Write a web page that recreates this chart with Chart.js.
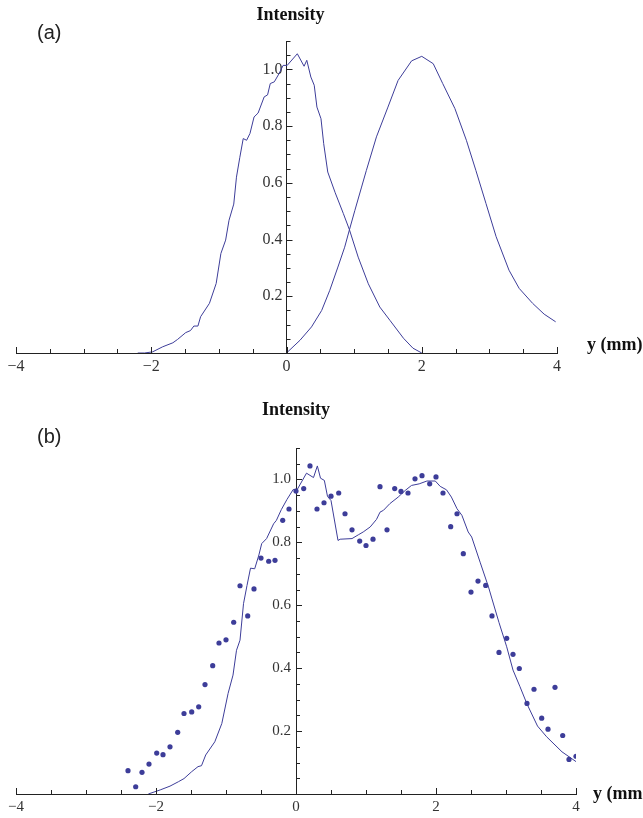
<!DOCTYPE html>
<html>
<head>
<meta charset="utf-8">
<script src="https://cdn.jsdelivr.net/npm/chart.js@4.4.1/dist/chart.umd.min.js"></script>
<style>
  html, body { margin: 0; padding: 0; background: #fff; }
  #wrap { position: relative; width: 643px; height: 818px; overflow: hidden; }
  canvas { position: absolute; left: 0; }
  #chartA { top: 0; }
  #chartB { top: 375px; }
</style>
</head>
<body>
<div id="wrap">
  <canvas id="chartA" width="643" height="375"></canvas>
  <canvas id="chartB" width="643" height="443"></canvas>
</div>
<script>
// panel (a) : left beam profile (measured) =====================================
var aLeftX = [-2.2, -2.1, -1.98, -1.83, -1.68, -1.61, -1.49, -1.42, -1.37, -1.31, -1.27, -1.14,
              -1.04, -0.97, -0.9, -0.85, -0.78, -0.74, -0.69, -0.64, -0.59, -0.54, -0.48, -0.42,
              -0.33, -0.28, -0.24, -0.18, -0.11, -0.05, 0.01, 0.16, 0.26, 0.30, 0.36, 0.41,
              0.45, 0.51, 0.55, 0.61, 0.72, 0.84, 0.93, 1.06, 1.21, 1.38, 1.53, 1.73, 1.87, 2.0];
var aLeftY = [0, 0, 0.004, 0.022, 0.036, 0.048, 0.072, 0.079, 0.095, 0.095, 0.128, 0.175,
              0.245, 0.351, 0.398, 0.468, 0.525, 0.62, 0.69, 0.756, 0.75, 0.774, 0.832, 0.846,
              0.903, 0.91, 0.95, 0.956, 0.985, 1.014, 1.014, 1.055, 1.011, 1.032, 0.973, 0.944,
              0.867, 0.826, 0.738, 0.638, 0.565, 0.492, 0.435, 0.338, 0.244, 0.162, 0.115, 0.052, 0.017, 0];

// panel (a) : right beam profile (shifted) =====================================
var aRightX = [0, 0.2, 0.37, 0.52, 0.64, 0.76, 0.86, 0.93, 1.01, 1.11, 1.18, 1.33, 1.5, 1.65,
               1.85, 2.0, 2.17, 2.31, 2.49, 2.66, 2.8, 2.95, 3.1, 3.29, 3.44, 3.64, 3.81, 3.98];
var aRightY = [0, 0.045, 0.092, 0.15, 0.221, 0.303, 0.373, 0.434, 0.502, 0.585, 0.643, 0.762, 0.867, 0.961,
               1.03, 1.046, 1.02, 0.95, 0.862, 0.75, 0.644, 0.527, 0.41, 0.292, 0.228, 0.175, 0.137, 0.11];

// panel (b) : measured points ===================================================
var bPointX = [-2.4, -2.29, -2.2, -2.1, -1.99, -1.9, -1.8, -1.69, -1.6, -1.49, -1.39, -1.3, -1.19,
               -1.1, -1.0, -0.89, -0.8, -0.69, -0.6, -0.5, -0.39, -0.3, -0.19, -0.1, 0.0, 0.11,
               0.2, 0.3, 0.4, 0.5, 0.61, 0.7, 0.8, 0.91, 1.0, 1.1, 1.2, 1.3, 1.41, 1.5, 1.6,
               1.7, 1.8, 1.91, 2.0, 2.1, 2.21, 2.3, 2.39, 2.5, 2.6, 2.71, 2.8, 2.9, 3.01, 3.1,
               3.19, 3.3, 3.4, 3.51, 3.6, 3.7, 3.81, 3.9, 4.0];
var bPointY = [0.074, 0.023, 0.069, 0.095, 0.13, 0.125, 0.15, 0.196, 0.256, 0.261, 0.277, 0.348, 0.408,
               0.48, 0.49, 0.546, 0.662, 0.566, 0.652, 0.75, 0.74, 0.743, 0.87, 0.906, 0.963, 0.971,
               1.043, 0.906, 0.926, 0.947, 0.957, 0.891, 0.84, 0.804, 0.79, 0.81, 0.977, 0.84, 0.971, 0.962, 0.957,
               1.002, 1.012, 0.986, 1.008, 0.957, 0.85, 0.891, 0.764, 0.642, 0.677, 0.663, 0.566, 0.45, 0.495, 0.444,
               0.399, 0.288, 0.333, 0.241, 0.206, 0.339, 0.186, 0.11, 0.12];

// panel (b) : computed curve ====================================================
var bLineX = [-2.11, -1.94, -1.8, -1.68, -1.6, -1.49, -1.4, -1.35, -1.29, -1.16, -1.06, -0.97, -0.9,
              -0.85, -0.8, -0.75, -0.7, -0.65, -0.59, -0.53, -0.49, -0.42, -0.32, -0.28, -0.21, -0.13,
              -0.04, 0.02, 0.15, 0.25, 0.305, 0.35, 0.405, 0.45, 0.5, 0.6, 0.63, 0.8, 0.89, 0.96, 1.06,
              1.15, 1.2, 1.25, 1.34, 1.46, 1.56, 1.65, 1.76, 1.87, 1.99, 2.06, 2.15, 2.22, 2.3, 2.37,
              2.46, 2.51, 2.63, 2.75, 2.8, 2.9, 3.01, 3.1, 3.2, 3.3, 3.45, 3.58, 3.8, 4.0];
var bLineY = [0, 0.013, 0.025, 0.039, 0.049, 0.071, 0.087, 0.09, 0.124, 0.166, 0.224, 0.32, 0.378,
              0.457, 0.489, 0.605, 0.663, 0.718, 0.716, 0.76, 0.796, 0.812, 0.859, 0.87, 0.904, 0.936,
              0.968, 0.969, 1.02, 1.006, 1.043, 1.004, 0.997, 0.946, 0.933, 0.806, 0.81, 0.812, 0.824, 0.833, 0.849,
              0.873, 0.896, 0.902, 0.923, 0.944, 0.965, 0.981, 0.986, 0.995, 0.995, 0.978, 0.967, 0.944, 0.907, 0.886,
              0.833, 0.817, 0.737, 0.658, 0.62, 0.545, 0.468, 0.394, 0.341, 0.286, 0.216, 0.182, 0.134, 0.103];

// ticks =========================================================================
var xMajor = [-4, -2, 0, 2, 4];
var xTickLabels = ['\u22124', '\u22122', '0', '2', '4'];
var yMajor = [0.2, 0.4, 0.6, 0.8, 1.0];
var yTickLabels = ['0.2', '0.4', '0.6', '0.8', '1.0'];

var curveColor = '#3d3d99';
var axisColor = '#222';
var textColor = '#333';

function toPoints(xs, ys) {
    var res = [];
    for (var i = 0; i < xs.length; ++i) {
        res.push({x: xs[i], y: ys[i]});
    }
    return res;
}

function findLabel(values, labels, v) {
    for (var i = 0; i < values.length; ++i) {
        if (Math.abs(values[i] - v) < 1e-6) return labels[i];
    }
    return '';
}

function lineSet(xs, ys) {
    return {
        type: 'line', data: toPoints(xs, ys), showLine: true,
        borderColor: curveColor, borderWidth: 1, pointRadius: 0, tension: 0, fill: false
    };
}

function pointSet(xs, ys) {
    return {
        type: 'scatter', data: toPoints(xs, ys), showLine: false,
        backgroundColor: curveColor, borderWidth: 0, pointRadius: 2.6
    };
}

// inward ticks, axis titles, panel tag ==========================================
var axisDecor = {
    id: 'axisDecor',
    afterDraw: function (chart, args, opts) {
        var ctx = chart.ctx, xs = chart.scales.x, ys = chart.scales.y, area = chart.chartArea;
        var x0 = xs.getPixelForValue(0), y0 = ys.getPixelForValue(0);
        ctx.save();
        ctx.strokeStyle = axisColor;
        ctx.lineWidth = 1;
        ctx.beginPath();
        xs.ticks.forEach(function (t) {
            var px = Math.round(xs.getPixelForValue(t.value)) + 0.5;
            var len = t.label ? 6 : 4;
            ctx.moveTo(px, y0);
            ctx.lineTo(px, y0 - len);
        });
        ys.ticks.forEach(function (t) {
            if (t.value <= 0) return;
            var py = Math.round(ys.getPixelForValue(t.value)) + 0.5;
            var len = t.label ? 6 : 4;
            ctx.moveTo(x0, py);
            ctx.lineTo(x0 + len, py);
        });
        ctx.stroke();

        ctx.fillStyle = '#111';
        ctx.font = 'bold 18px "Liberation Serif"';
        ctx.textAlign = 'center';
        ctx.textBaseline = 'alphabetic';
        ctx.fillText('Intensity', x0 + opts.yTitleDx, area.top - opts.yTitleUp);
        ctx.textAlign = 'left';
        ctx.textBaseline = 'middle';
        ctx.fillText('y (mm)', area.right + opts.xTitleDx, y0 + opts.xTitleDy);

        ctx.font = '20px "Liberation Sans"';
        ctx.textBaseline = 'alphabetic';
        ctx.fillStyle = '#222';
        ctx.fillText(opts.tag, opts.tagX, opts.tagY);
        ctx.restore();
    }
};

function makePanel(id, datasets, p) {
    return new Chart(document.getElementById(id), {
        type: 'scatter',
        data: { datasets: datasets },
        options: {
            responsive: false,
            animation: false,
            layout: { padding: p.padding },
            plugins: {
                legend: { display: false },
                tooltip: { enabled: false },
                axisDecor: p.decor
            },
            scales: {
                x: {
                    type: 'linear', min: -4, max: 4, position: 'bottom',
                    afterFit: function (s) { s.height = p.xAxisHeight; },
                    grid: { drawOnChartArea: false, drawTicks: false, display: true, color: 'rgba(0,0,0,0)' },
                    border: { display: true, color: axisColor, width: 1 },
                    ticks: {
                        stepSize: 0.5, autoSkip: false, maxRotation: 0, padding: 4,
                        color: textColor, font: { family: 'Liberation Serif', size: p.fontSize },
                        callback: function (v) { return findLabel(xMajor, xTickLabels, v); }
                    }
                },
                y: {
                    // labels sit right-aligned on the axis line; a trailing space gives the gap
                    type: 'linear', min: 0, max: 1.1, position: { x: 0 },
                    grid: { drawOnChartArea: false, drawTicks: false, display: true, color: 'rgba(0,0,0,0)' },
                    border: { display: true, color: axisColor, width: 1 },
                    ticks: {
                        stepSize: 0.05, autoSkip: false,
                        color: textColor, font: { family: 'Liberation Serif', size: p.fontSize },
                        callback: function (v) {
                            var s = findLabel(yMajor, yTickLabels, v);
                            return s ? s + p.yGap : '';
                        }
                    }
                }
            }
        },
        plugins: [axisDecor]
    });
}

makePanel('chartA', [lineSet(aLeftX, aLeftY), lineSet(aRightX, aRightY)], {
    padding: { left: 16, right: 86, top: 41, bottom: 0 },
    xAxisHeight: 22, fontSize: 16, yGap: ' ',
    decor: { yTitleDx: 4, yTitleUp: 21, xTitleDx: 30, xTitleDy: -8, tag: '(a)', tagX: 37, tagY: 39 }
});

makePanel('chartB', [lineSet(bLineX, bLineY), pointSet(bPointX, bPointY)], {
    padding: { left: 16, right: 67, top: 73, bottom: 0 },
    xAxisHeight: 24, fontSize: 15, yGap: '\u2004',
    decor: { yTitleDx: 0, yTitleUp: 33, xTitleDx: 17, xTitleDy: 0, tag: '(b)', tagX: 37, tagY: 68 }
});
</script>
</body>
</html>
